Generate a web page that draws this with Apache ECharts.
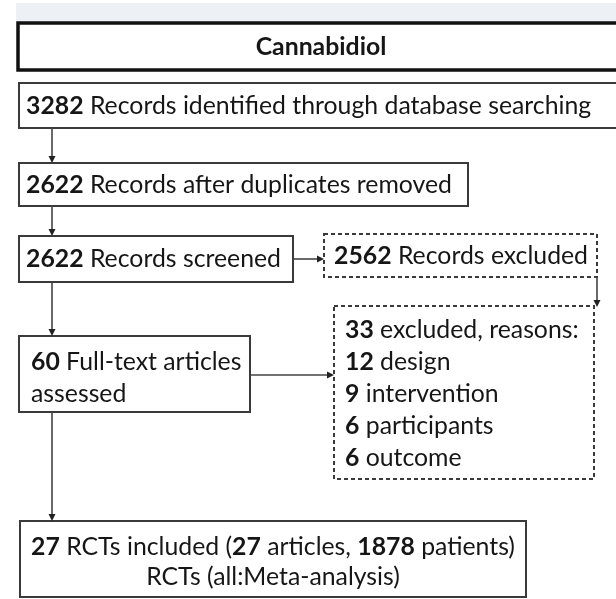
<!DOCTYPE html>
<html>
<head>
<meta charset="utf-8">
<script src="https://cdn.jsdelivr.net/npm/echarts@6/dist/echarts.min.js"></script>
<style>
  html, body { margin: 0; padding: 0; background: #fff; }
  #chart { width: 616px; height: 599px; }
</style>
</head>
<body>
<div id="chart"></div>
<script>
// 数据
const title = 'Cannabidiol';
const stageLabels = ['Records identified through database searching', 'Records after duplicates removed', 'Records screened', 'Full-text articles', 'assessed'];
const stageCounts = [3282, 2622, 2622, 60];
const excludedLabel = 'Records excluded';
const excludedCount = 2562;
const reasonLabels = ['excluded, reasons:', 'design', 'intervention', 'participants', 'outcome'];
const reasonCounts = [33, 12, 9, 6, 6];
const includedLabels = ['RCTs included (', 'articles,', 'patients)', 'RCTs (all:Meta-analysis)'];
const includedCounts = [27, 27, 1878];

const FONT = 'Lato, "Open Sans", sans-serif';
const FS = 24.8;
const INK = '#161616';

function b(v) { return '{b|' + v + '}'; }
function n(v) { return '{n|' + v + '}'; }

// 版面: x0, y0, x1, y1, 边框类型, 文字横向位置, 各行文字 [y, 内容]
const boxes = [
  { r: [18, 23, 620, 70], kind: 'thick', tx: 'center', cx: 321, lines: [[47, b(title)]] },
  { r: [19, 83, 620, 128], kind: 'solid', tx: 26, lines: [[106, b(stageCounts[0]) + n(' ' + stageLabels[0])]] },
  { r: [19, 163, 468, 206], kind: 'solid', tx: 26, lines: [[185, b(stageCounts[1]) + n(' ' + stageLabels[1])]] },
  { r: [19, 236, 293, 282], kind: 'solid', tx: 26, lines: [[259, b(stageCounts[2]) + n(' ' + stageLabels[2])]] },
  { r: [324, 234, 597, 277], kind: 'dashed', tx: 334, lines: [[256, b(excludedCount) + n(' ' + excludedLabel)]] },
  { r: [334, 306, 594, 479], kind: 'dashed', tx: 345, lines: reasonLabels.map((l, i) => [330 + i * 32, b(reasonCounts[i]) + n(' ' + l)]) },
  { r: [19, 336, 250, 412], kind: 'solid', tx: 31, lines: [[362, b(stageCounts[3]) + n(' ' + stageLabels[3])], [394, n(stageLabels[4])]] },
  { r: [20, 521, 526, 597], kind: 'solid', tx: 'center', cx: 273, lines: [
    [547, b(includedCounts[0]) + n(' ' + includedLabels[0]) + b(includedCounts[1]) + n(' ' + includedLabels[1] + ' ') + b(includedCounts[2]) + n(' ' + includedLabels[2])],
    [577, n(includedLabels[3])]
  ] }
];

// 箭头: 起点, 终点
const arrows = [
  [52, 128, 52, 163],
  [52, 206, 52, 236],
  [52, 282, 52, 336],
  [52, 412, 52, 521],
  [293, 259, 324, 259],
  [250, 375, 334, 375],
  [597, 277, 597, 307]
];

const rich = {
  b: { fontWeight: 'bold', fontSize: FS, fontFamily: FONT, fill: INK, color: INK },
  n: { fontWeight: 'normal', fontSize: FS, fontFamily: FONT, fill: INK, color: INK }
};

const chart = echarts.init(document.getElementById('chart'));

const option = {
  animation: false,
  grid: { left: 0, right: 0, top: 0, bottom: 0 },
  xAxis: { type: 'value', min: 0, max: 616, show: false },
  yAxis: { type: 'value', min: 0, max: 599, inverse: true, show: false },
  series: [
    {
      type: 'custom',
      silent: true,
      data: [[16, 3, 616, 22]],
      renderItem: function (params, api) {
        const p0 = api.coord([api.value(0), api.value(1)]);
        const p1 = api.coord([api.value(2), api.value(3)]);
        return { type: 'rect', shape: { x: p0[0], y: p0[1], width: p1[0] - p0[0], height: p1[1] - p0[1] }, style: { fill: '#edf0f4' } };
      }
    },
    {
      type: 'custom',
      silent: true,
      data: boxes.map(bx => bx.r),
      renderItem: function (params, api) {
        const bx = boxes[params.dataIndex];
        const p0 = api.coord([api.value(0), api.value(1)]);
        const p1 = api.coord([api.value(2), api.value(3)]);
        const children = [{
          type: 'rect',
          shape: { x: p0[0], y: p0[1], width: p1[0] - p0[0], height: p1[1] - p0[1] },
          style: {
            fill: '#fff',
            stroke: bx.kind === 'thick' ? '#111' : '#3a3a3a',
            lineWidth: bx.kind === 'thick' ? 3.5 : 2,
            lineDash: bx.kind === 'dashed' ? [4, 3] : null
          }
        }];
        bx.lines.forEach(function (ln) {
          const center = bx.tx === 'center';
          const pt = api.coord([center ? bx.cx : bx.tx, ln[0]]);
          children.push({
            type: 'text',
            x: pt[0],
            y: pt[1],
            style: {
              text: ln[1],
              rich: rich,
              fontSize: FS,
              fontFamily: FONT,
              fill: INK,
              align: center ? 'center' : 'left',
              verticalAlign: 'middle'
            }
          });
        });
        return { type: 'group', children: children };
      }
    },
    {
      type: 'custom',
      silent: true,
      data: arrows,
      renderItem: function (params, api) {
        const p0 = api.coord([api.value(0), api.value(1)]);
        const p1 = api.coord([api.value(2), api.value(3)]);
        const dx = p1[0] - p0[0], dy = p1[1] - p0[1];
        const len = Math.sqrt(dx * dx + dy * dy);
        const ux = dx / len, uy = dy / len;
        const h = 7, w = 3.5;
        const base = [p1[0] - ux * h, p1[1] - uy * h];
        return {
          type: 'group',
          children: [
            { type: 'line', shape: { x1: p0[0], y1: p0[1], x2: base[0], y2: base[1] }, style: { stroke: '#444', lineWidth: 1.6 } },
            { type: 'polygon', shape: { points: [[p1[0], p1[1]], [base[0] - uy * w, base[1] + ux * w], [base[0] + uy * w, base[1] - ux * w]] }, style: { fill: '#222' } }
          ]
        };
      }
    }
  ]
};

chart.setOption(option);
window.addEventListener('resize', () => chart.resize());
</script>
</body>
</html>
